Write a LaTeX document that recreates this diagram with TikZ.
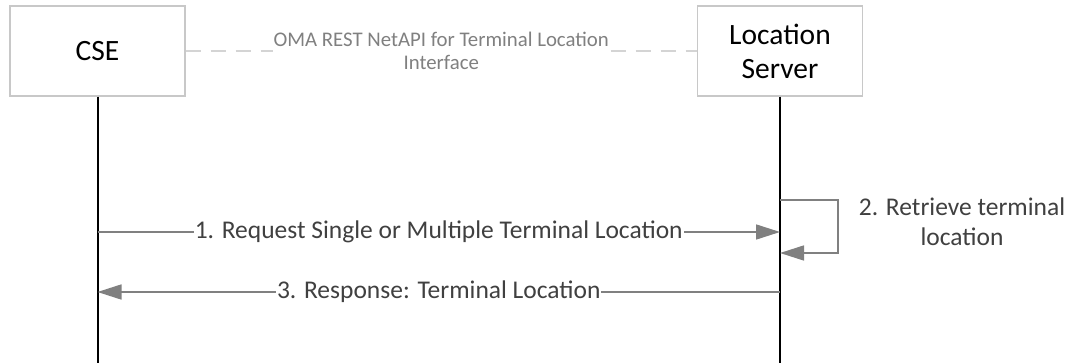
\documentclass[tikz,border=0pt]{standalone}
\usepackage{fontspec}
\setmainfont{Carlito}
\usetikzlibrary{arrows.meta}
\definecolor{boxline}{HTML}{C8C8C8}
\definecolor{ifline}{HTML}{D4D4D4}
\definecolor{msgline}{HTML}{808080}
\definecolor{msgtext}{HTML}{404040}
\tikzset{
  entity/.style={draw=boxline,line width=1.2pt,fill=white,align=center,inner sep=0pt,
    font=\fontsize{29.5}{34}\selectfont},
  lifeline/.style={line width=2pt,black},
  msg/.style={draw=msgline,line width=1.6pt,-{Triangle[length=24pt,width=15pt]}},
  msglabel/.style={fill=white,text=msgtext,inner sep=1pt,align=center,
    font=\fontsize{25.5}{30}\selectfont}
}
\begin{document}
\begin{tikzpicture}[x=1pt,y=-1pt]
\useasboundingbox (0,0) rectangle (1065,363);
\node[entity,minimum width=175pt,minimum height=90pt](cse) at (97.5,51){CSE};
\node[entity,minimum width=165pt,minimum height=90pt](ls) at (780,51){Location\\Server};
\coordinate(cseend) at (97.5,363);
\coordinate(lsend) at (780,363);
\draw[lifeline](cse.south)--(cseend);
\draw[lifeline](ls.south)--(lsend);
%% interface
\draw[ifline,line width=1.6pt,dash pattern=on 15pt off 10pt](cse.east)--
  node[fill=white,text=msgline,align=center,inner sep=1pt,
    font=\fontsize{20.8}{23}\selectfont]{OMA REST NetAPI for Terminal Location\\Interface}(ls.west);
%% messages
\coordinate(m1a) at (97.5,232);
\coordinate(m1b) at (780,232);
\draw[msg](m1a)--node[msglabel]{1. Request Single or Multiple Terminal Location}(m1b);
\coordinate(s1) at (780,200);
\coordinate(s2) at (780,253);
\draw[msg](s1)-|(838,226.5)|-(s2);
\node[msglabel,anchor=center](retr) at (962,222){2. Retrieve terminal\\location};
\coordinate(m3a) at (780,292);
\coordinate(m3b) at (97.5,292);
\draw[msg](m3a)--node[msglabel]{3. Response: Terminal Location}(m3b);
\end{tikzpicture}
\end{document}
